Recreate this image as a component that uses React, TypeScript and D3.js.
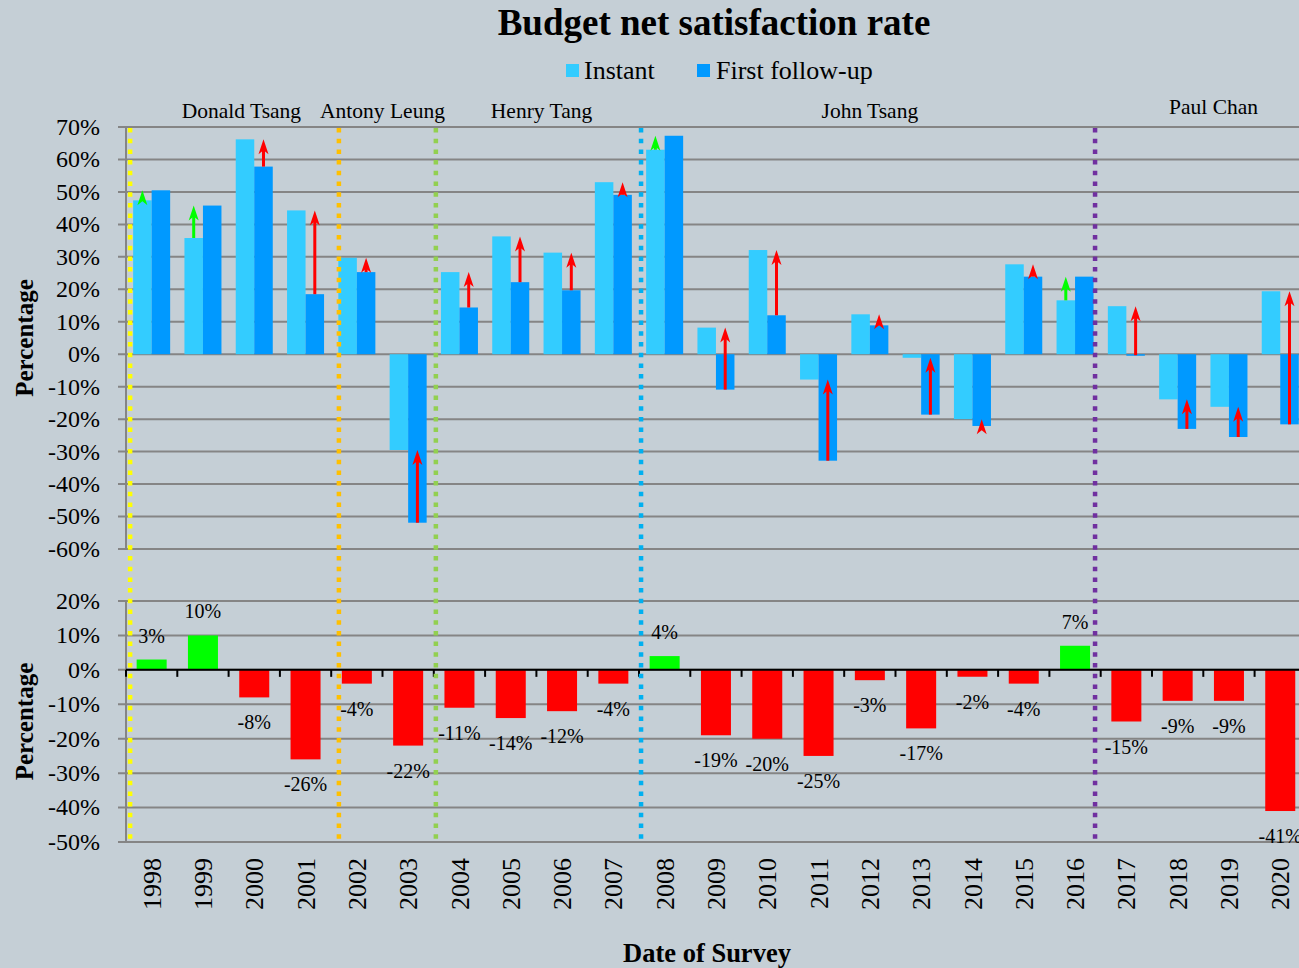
import React from "react";
import * as d3 from "d3";

// survey years
const years = ["1998", "1999", "2000", "2001", "2002", "2003", "2004", "2005", "2006", "2007", "2008", "2009",
  "2010", "2011", "2012", "2013", "2014", "2015", "2016", "2017", "2018", "2019", "2020"];

// net satisfaction (%) measured right after the budget speech
const instant = [47.4, 35.8, 66.2, 44.3, 29.7, -29.5, 25.3, 36.3, 31.3, 53.0, 63.0, 8.2,
  32.1, -7.8, 12.3, -1.1, -20.0, 27.7, 16.6, 14.8, -13.9, -16.2, 19.4];

// net satisfaction (%) at the first follow-up survey
const followUp = [50.5, 45.8, 57.8, 18.5, 25.3, -51.9, 14.4, 22.2, 19.7, 49.1, 67.3, -10.9,
  12.0, -32.8, 8.9, -18.6, -22.1, 23.9, 23.9, -0.3, -23.0, -25.5, -21.6];

// change between the two surveys, as labelled
const netChange = [3, 10, -8, -26, -4, -22, -11, -14, -12, -4, 4, -19,
  -20, -25, -3, -17, -2, -4, 7, -15, -9, -9, -41];

const topTicks = [70, 60, 50, 40, 30, 20, 10, 0, -10, -20, -30, -40, -50, -60];
const bottomTicks = [20, 10, 0, -10, -20, -30, -40, -50];

// financial secretaries and where their term marker falls (in years from the first survey)
const secretaries = ["Donald Tsang", "Antony Leung", "Henry Tang", "John Tsang", "Paul Chan"];
const termStarts = [0.08, 4.15, 6.04, 10.04, 18.89];
const termColors = ["#FFFF00", "#FFC000", "#92D050", "#00B0F0", "#7030A0"];
const nameAt = [2.25, 5.0, 8.1, 14.5, 21.2];

const W = 1299;
const H = 968;
const FONT = "'Liberation Serif', 'Times New Roman', serif";
const BG = "#C5CFD6";
const GRID = "#858585";

const left = 126;
const step = 51.3;

export default function App() {
  const x = d3.scaleBand().domain(years).range([left, left + step * years.length]);
  const pos = d3.scaleLinear().domain([0, years.length]).range([left, left + step * years.length]);
  const pair = d3.scaleBand().domain(["instant", "followUp"]).range([0, x.bandwidth()]).paddingOuter(0.386);

  const yTop = d3.scaleLinear().domain([70, -60]).range([127, 549]);
  const yBot = d3.scaleLinear().domain([20, -50]).range([601, 842]);

  const gridRight = W;
  const botW = x.bandwidth() * 0.585;

  return (
    <svg width={W} height={H} style={{ position: "absolute", left: 0, top: 0, display: "block" }} fontFamily={FONT}>
      <rect width={W} height={H} fill={BG} />

      <text x={714} y={35} textAnchor="middle" fontSize={37} fontWeight="bold">Budget net satisfaction rate</text>

      {/* legend */}
      <rect x={566} y={64} width={13} height={13} fill="#33CCFF" />
      <text x={584} y={79} fontSize={26}>Instant</text>
      <rect x={697} y={64} width={13} height={13} fill="#0099FF" />
      <text x={716} y={79} fontSize={26}>First follow-up</text>

      {/* top panel grid */}
      {topTicks.map((t) => (
        <g key={"tt" + t}>
          <line x1={118} x2={gridRight} y1={yTop(t)} y2={yTop(t)} stroke={GRID} strokeWidth={2} />
          <text x={100} y={yTop(t)} dy="0.33em" textAnchor="end" fontSize={24}>{t + "%"}</text>
        </g>
      ))}
      <line x1={left} x2={left} y1={yTop(70)} y2={yTop(-60)} stroke={GRID} strokeWidth={2} />

      {/* bottom panel grid */}
      {bottomTicks.map((t) => (
        <g key={"bt" + t}>
          <line x1={118} x2={gridRight} y1={yBot(t)} y2={yBot(t)} stroke={GRID} strokeWidth={2} />
          <text x={100} y={yBot(t)} dy="0.33em" textAnchor="end" fontSize={24}>{t + "%"}</text>
        </g>
      ))}
      <line x1={left} x2={left} y1={yBot(20)} y2={yBot(-50)} stroke={GRID} strokeWidth={2} />

      {/* top bars */}
      {years.map((yr, i) => {
        const x0 = x(yr) as number;
        const a = instant[i];
        const b = followUp[i];
        return (
          <g key={"bar" + yr}>
            <rect x={x0 + (pair("instant") as number)} width={pair.bandwidth()}
              y={yTop(Math.max(a, 0))} height={Math.abs(yTop(a) - yTop(0))} fill="#33CCFF" />
            <rect x={x0 + (pair("followUp") as number)} width={pair.bandwidth()}
              y={yTop(Math.max(b, 0))} height={Math.max(1.5, Math.abs(yTop(b) - yTop(0)))} fill="#0099FF" />
          </g>
        );
      })}

      {/* arrows */}
      {years.map((yr, i) => {
        const up = followUp[i] > instant[i];
        const key = up ? "instant" : "followUp";
        const cx = (x(yr) as number) + (pair(key) as number) + pair.bandwidth() / 2;
        const lo = Math.min(instant[i], followUp[i]);
        const hi = Math.max(instant[i], followUp[i]);
        const tip = yTop(hi);
        const base = yTop(lo);
        const col = up ? "#00FF00" : "#FF0000";
        return (
          <g key={"arr" + yr}>
            {base > tip + 9 && <line x1={cx} x2={cx} y1={base} y2={tip + 9} stroke={col} strokeWidth={3} />}
            <path d={`M${cx},${tip} L${cx - 5},${tip + 15} L${cx},${tip + 11} L${cx + 5},${tip + 15} Z`} fill={col} />
          </g>
        );
      })}

      {/* bottom bars */}
      {years.map((yr, i) => {
        const v = netChange[i];
        const cx = (x(yr) as number) + x.bandwidth() / 2;
        const top = yBot(Math.max(v, 0));
        const h = Math.abs(yBot(v) - yBot(0));
        return (
          <g key={"net" + yr}>
            <rect x={cx - botW / 2} width={botW} y={top} height={h} fill={v > 0 ? "#00FF00" : "#FF0000"} />
            <text x={cx} y={v > 0 ? yBot(v) - 17 : yBot(v) + 32} textAnchor="middle" fontSize={20}>{v + "%"}</text>
          </g>
        );
      })}

      {/* zero axis with ticks */}
      <line x1={left} x2={gridRight} y1={yBot(0)} y2={yBot(0)} stroke="#000" strokeWidth={2} />
      {d3.range(years.length + 1).map((k) => (
        <line key={"tk" + k} x1={pos(k)} x2={pos(k)} y1={yBot(0)} y2={yBot(0) + 7} stroke="#000" strokeWidth={2} />
      ))}

      {/* term separators */}
      {termStarts.map((s, i) => (
        <line key={"term" + i} x1={pos(s)} x2={pos(s)} y1={128} y2={842}
          stroke={termColors[i]} strokeWidth={4.5} strokeDasharray="4.5 6.2" />
      ))}

      {secretaries.map((n, i) => (
        <text key={n} x={pos(nameAt[i])} y={i === 4 ? 114 : 118} textAnchor="middle" fontSize={21.5}>{n}</text>
      ))}

      {/* year labels */}
      {years.map((yr) => {
        const cx = (x(yr) as number) + x.bandwidth() / 2;
        return (
          <text key={"yl" + yr} transform={`translate(${cx},858) rotate(-90)`} dy="0.35em" textAnchor="end" fontSize={26}>{yr}</text>
        );
      })}

      <text transform={`translate(33,${(yTop(70) + yTop(-60)) / 2}) rotate(-90)`} textAnchor="middle" fontSize={25} fontWeight="bold">Percentage</text>
      <text transform={`translate(33,${(yBot(20) + yBot(-50)) / 2}) rotate(-90)`} textAnchor="middle" fontSize={25} fontWeight="bold">Percentage</text>
      <text x={707} y={962} textAnchor="middle" fontSize={26.5} fontWeight="bold">Date of Survey</text>
    </svg>
  );
}
